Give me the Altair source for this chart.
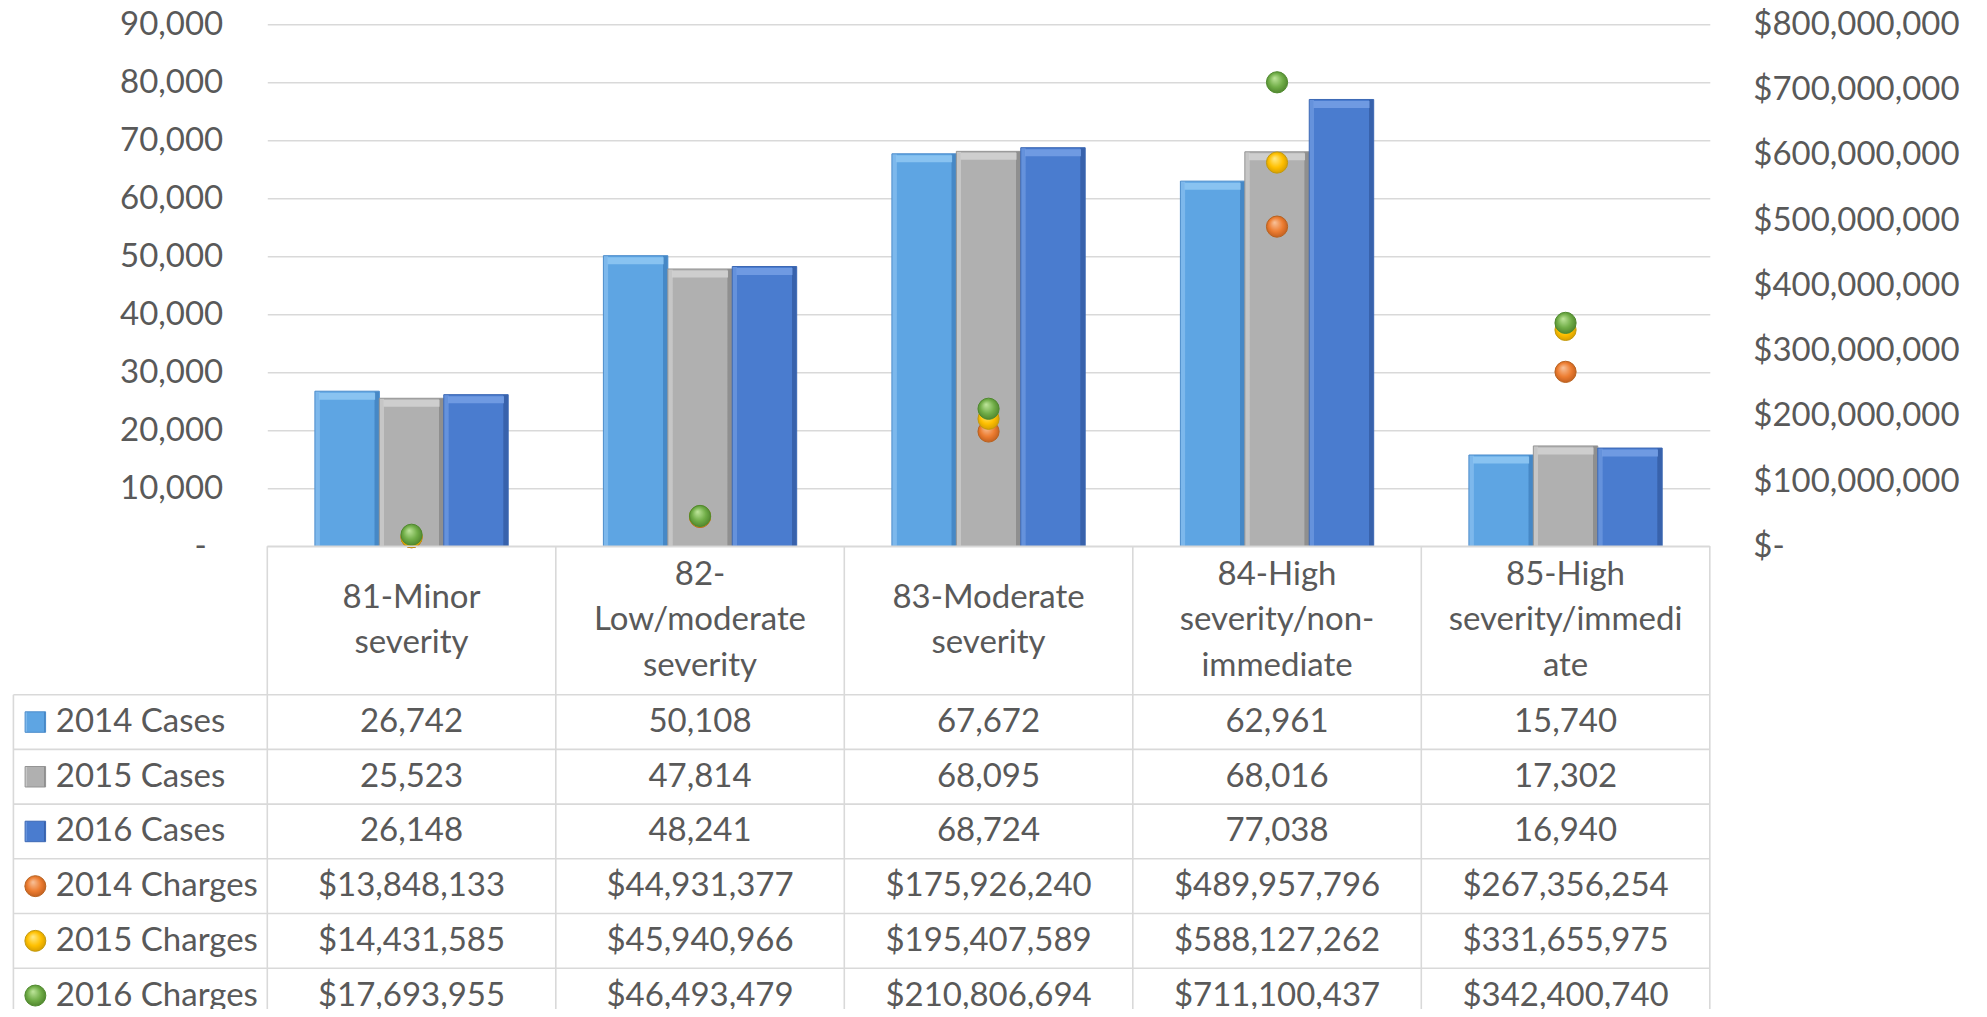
import altair as alt
import pandas as pd

# ---------------- data ----------------
categories = ["81-Minor severity", "82-Low/moderate severity", "83-Moderate severity",
              "84-High severity/non-immediate", "85-High severity/immediate"]
header_labels = ["81-Minor\nseverity", "82-\nLow/moderate\nseverity", "83-Moderate\nseverity",
                 "84-High\nseverity/non-\nimmediate", "85-High\nseverity/immedi\nate"]
case_series = ["2014 Cases", "2015 Cases", "2016 Cases"]
charge_series = ["2014 Charges", "2015 Charges", "2016 Charges"]

cases_2014 = [26742, 50108, 67672, 62961, 15740]
cases_2015 = [25523, 47814, 68095, 68016, 17302]
cases_2016 = [26148, 48241, 68724, 77038, 16940]
charges_2014 = [13848133, 44931377, 175926240, 489957796, 267356254]
charges_2015 = [14431585, 45940966, 195407589, 588127262, 331655975]
charges_2016 = [17693955, 46493479, 210806694, 711100437, 342400740]

left_ticks = [0, 10000, 20000, 30000, 40000, 50000, 60000, 70000, 80000, 90000]
right_ticks = [0, 100000000, 200000000, 300000000, 400000000, 500000000,
               600000000, 700000000, 800000000]

# ---------------- styles ----------------
FONT = "Lato"
FS = 33
TXT = "#595959"
GRID = "#d9d9d9"
W = 1442.5
H = 522
ROW_PX = 54.7
LINE_PX = 45.6
HEADER_U = 2.713
TABLE_U = HEADER_U + 6
LEG_LEFT = -0.88
ICON_X = -0.804
LABEL_X = -0.733


def lin(left, mid, right):
    return {"gradient": "linear", "x1": 0, "y1": 0, "x2": 1, "y2": 0,
            "stops": [{"offset": 0, "color": left}, {"offset": 0.07, "color": left},
                      {"offset": 0.08, "color": mid}, {"offset": 0.92, "color": mid},
                      {"offset": 0.93, "color": right}, {"offset": 1, "color": right}]}


def rad(light, mid, dark):
    return {"gradient": "radial", "x1": 0.38, "y1": 0.3, "r1": 0,
            "x2": 0.5, "y2": 0.5, "r2": 0.6,
            "stops": [{"offset": 0, "color": light}, {"offset": 0.55, "color": mid},
                      {"offset": 1, "color": dark}]}


bar_style = {
    "2014 Cases": dict(fill=lin("#7db8ec", "#5ea5e3", "#4688c6"), stroke="#4a8ccb", hl="#8ec6f2"),
    "2015 Cases": dict(fill=lin("#c6c6c6", "#b0b0b0", "#8f8f8f"), stroke="#949494", hl="#d2d2d2"),
    "2016 Cases": dict(fill=lin("#6592dc", "#4a7ccf", "#3862ac"), stroke="#3b67b4", hl="#739de3"),
}
pt_style = {
    "2014 Charges": dict(fill=rad("#f8c39c", "#ed7d31", "#b4561a"), stroke="#b9621f"),
    "2015 Charges": dict(fill=rad("#ffeb8a", "#ffc000", "#c99300"), stroke="#c29a10"),
    "2016 Charges": dict(fill=rad("#bfe69c", "#70ad47", "#467a27"), stroke="#4f8a2e"),
}

# ---------------- tables ----------------
bar_df = pd.DataFrame({
    "category": categories * 3,
    "series": sum([[s] * 5 for s in case_series], []),
    "cases": cases_2014 + cases_2015 + cases_2016,
})
pt_df = pd.DataFrame({
    "category": categories * 3,
    "series": sum([[s] * 5 for s in charge_series], []),
    "charges": charges_2014 + charges_2015 + charges_2016,
})

x_scale = alt.Scale(domain=categories, paddingInner=0.33, paddingOuter=0.165)
left_axis = alt.Axis(orient="left", values=left_ticks, grid=True, gridColor=GRID, gridWidth=1.5,
                     domain=False, ticks=False, tickSize=0, labelLimit=0,
                     labelPadding={"condition": {"test": "datum.value == 0", "value": 61}, "value": 44.6},
                     labelExpr="datum.value == 0 ? '-' : format(datum.value, ',')")
right_axis = alt.Axis(orient="right", values=right_ticks, grid=False, domain=False, ticks=False,
                      tickSize=0, labelPadding=43, labelLimit=0,
                      labelExpr="datum.value == 0 ? '$-' : '$' + format(datum.value, ',')")

bar_layers = []
for s in case_series:
    st = bar_style[s]
    base = alt.Chart(bar_df).transform_filter(alt.datum.series == s).encode(
        x=alt.X("category:N", scale=x_scale, axis=None, sort=categories),
        xOffset=alt.XOffset("series:N", scale=alt.Scale(domain=case_series, paddingInner=0, paddingOuter=0)),
        y=alt.Y("cases:Q", scale=alt.Scale(domain=[0, 90000], nice=False), axis=left_axis, title=None),
    )
    bar_layers.append(base.mark_bar(fill=st["fill"], stroke=st["stroke"], strokeWidth=1, opacity=1))
    bar_layers.append(base.mark_tick(color=st["hl"], thickness=7, size=56, yOffset=5, opacity=0.9))
bars = alt.layer(*bar_layers)

pt_layers = []
for s in charge_series:
    st = pt_style[s]
    pt_layers.append(alt.Chart(pt_df).transform_filter(alt.datum.series == s).mark_circle(
        fill=st["fill"], stroke=st["stroke"], strokeWidth=1, opacity=1, size=450
    ).encode(
        x=alt.X("category:N", scale=x_scale, axis=None, sort=categories),
        y=alt.Y("charges:Q", scale=alt.Scale(domain=[0, 800000000], nice=False), axis=right_axis, title=None),
    ))
points = alt.layer(*pt_layers)

core = alt.layer(bars, points).resolve_scale(y="independent")

# ---- data table under the plot ----
tx = alt.Scale(domain=[0, 5], nice=False, zero=False)
ty = alt.Scale(domain=[0, TABLE_U], nice=False, zero=False, range=[H, H + TABLE_U * ROW_PX])

h_lines = pd.DataFrame({
    "x": [0.0] + [LEG_LEFT] * 7,
    "x2": [5.0] * 8,
    "y": [0.0] + [HEADER_U + k for k in range(7)],
})
v_lines = pd.DataFrame({
    "x": [0, 1, 2, 3, 4, 5, LEG_LEFT],
    "y": [0.0] * 6 + [HEADER_U],
    "y2": [TABLE_U] * 7,
})
hrule = alt.Chart(h_lines).mark_rule(color=GRID, strokeWidth=1.6).encode(
    x=alt.X("x:Q", scale=tx, axis=None), x2="x2:Q",
    y=alt.Y("y:Q", scale=ty, axis=None))
vrule = alt.Chart(v_lines).mark_rule(color=GRID, strokeWidth=1.6).encode(
    x=alt.X("x:Q", scale=tx, axis=None),
    y=alt.Y("y:Q", scale=ty, axis=None), y2="y2:Q")

# multi-line header: first line placed so the block is centred in the header row
line_u = LINE_PX / ROW_PX
header_df = pd.DataFrame({
    "tx": [i + 0.5 for i in range(5)],
    "ty": [HEADER_U / 2 - (lab.count("\n")) / 2 * line_u for lab in header_labels],
    "label": header_labels,
})
header = alt.Chart(header_df).mark_text(font=FONT, fontSize=FS, color=TXT, lineBreak="\n",
                                        lineHeight=LINE_PX, align="center", baseline="middle").encode(
    x=alt.X("tx:Q", scale=tx, axis=None), y=alt.Y("ty:Q", scale=ty, axis=None), text="label:N")

row_names = case_series + charge_series
row_values = [cases_2014, cases_2015, cases_2016, charges_2014, charges_2015, charges_2016]
cells = []
for r, (name, vals) in enumerate(zip(row_names, row_values)):
    for i, v in enumerate(vals):
        lab = f"{v:,}" if r < 3 else f"${v:,}"
        cells.append({"tx": i + 0.5, "ty": HEADER_U + r + 0.5, "label": lab})
cell_df = pd.DataFrame(cells)
cell_text = alt.Chart(cell_df).mark_text(font=FONT, fontSize=FS, color=TXT, align="center",
                                         baseline="middle").encode(
    x=alt.X("tx:Q", scale=tx, axis=None), y=alt.Y("ty:Q", scale=ty, axis=None), text="label:N")

leg_df = pd.DataFrame({"tx": [LABEL_X] * 6, "ix": [ICON_X] * 6,
                       "ty": [HEADER_U + r + 0.5 for r in range(6)], "label": row_names})
leg_text = alt.Chart(leg_df).mark_text(font=FONT, fontSize=FS, color=TXT, align="left",
                                       baseline="middle").encode(
    x=alt.X("tx:Q", scale=tx, axis=None), y=alt.Y("ty:Q", scale=ty, axis=None), text="label:N")

icons = []
for r, name in enumerate(row_names):
    src = leg_df[leg_df["label"] == name]
    if name in bar_style:
        st = bar_style[name]
        m = alt.Chart(src).mark_square(fill=st["fill"], stroke=st["stroke"], strokeWidth=1,
                                       opacity=1, size=420)
    else:
        st = pt_style[name]
        m = alt.Chart(src).mark_circle(fill=st["fill"], stroke=st["stroke"], strokeWidth=1,
                                       opacity=1, size=440)
    icons.append(m.encode(x=alt.X("ix:Q", scale=tx, axis=None), y=alt.Y("ty:Q", scale=ty, axis=None)))

table = alt.layer(hrule, vrule, header, cell_text, leg_text, *icons)

chart = alt.layer(core, table).resolve_scale(x="independent", y="independent").properties(
    width=W, height=H,
    autosize=alt.AutoSizeParams(type="none"),
    padding={"left": 259.3, "top": 16.3, "right": 262, "bottom": 462.7},
).configure_view(stroke=None).configure_axis(
    labelFont=FONT, labelFontSize=FS, labelColor=TXT
)

chart.save("out.html", embed_options={"renderer": "svg", "actions": False})
